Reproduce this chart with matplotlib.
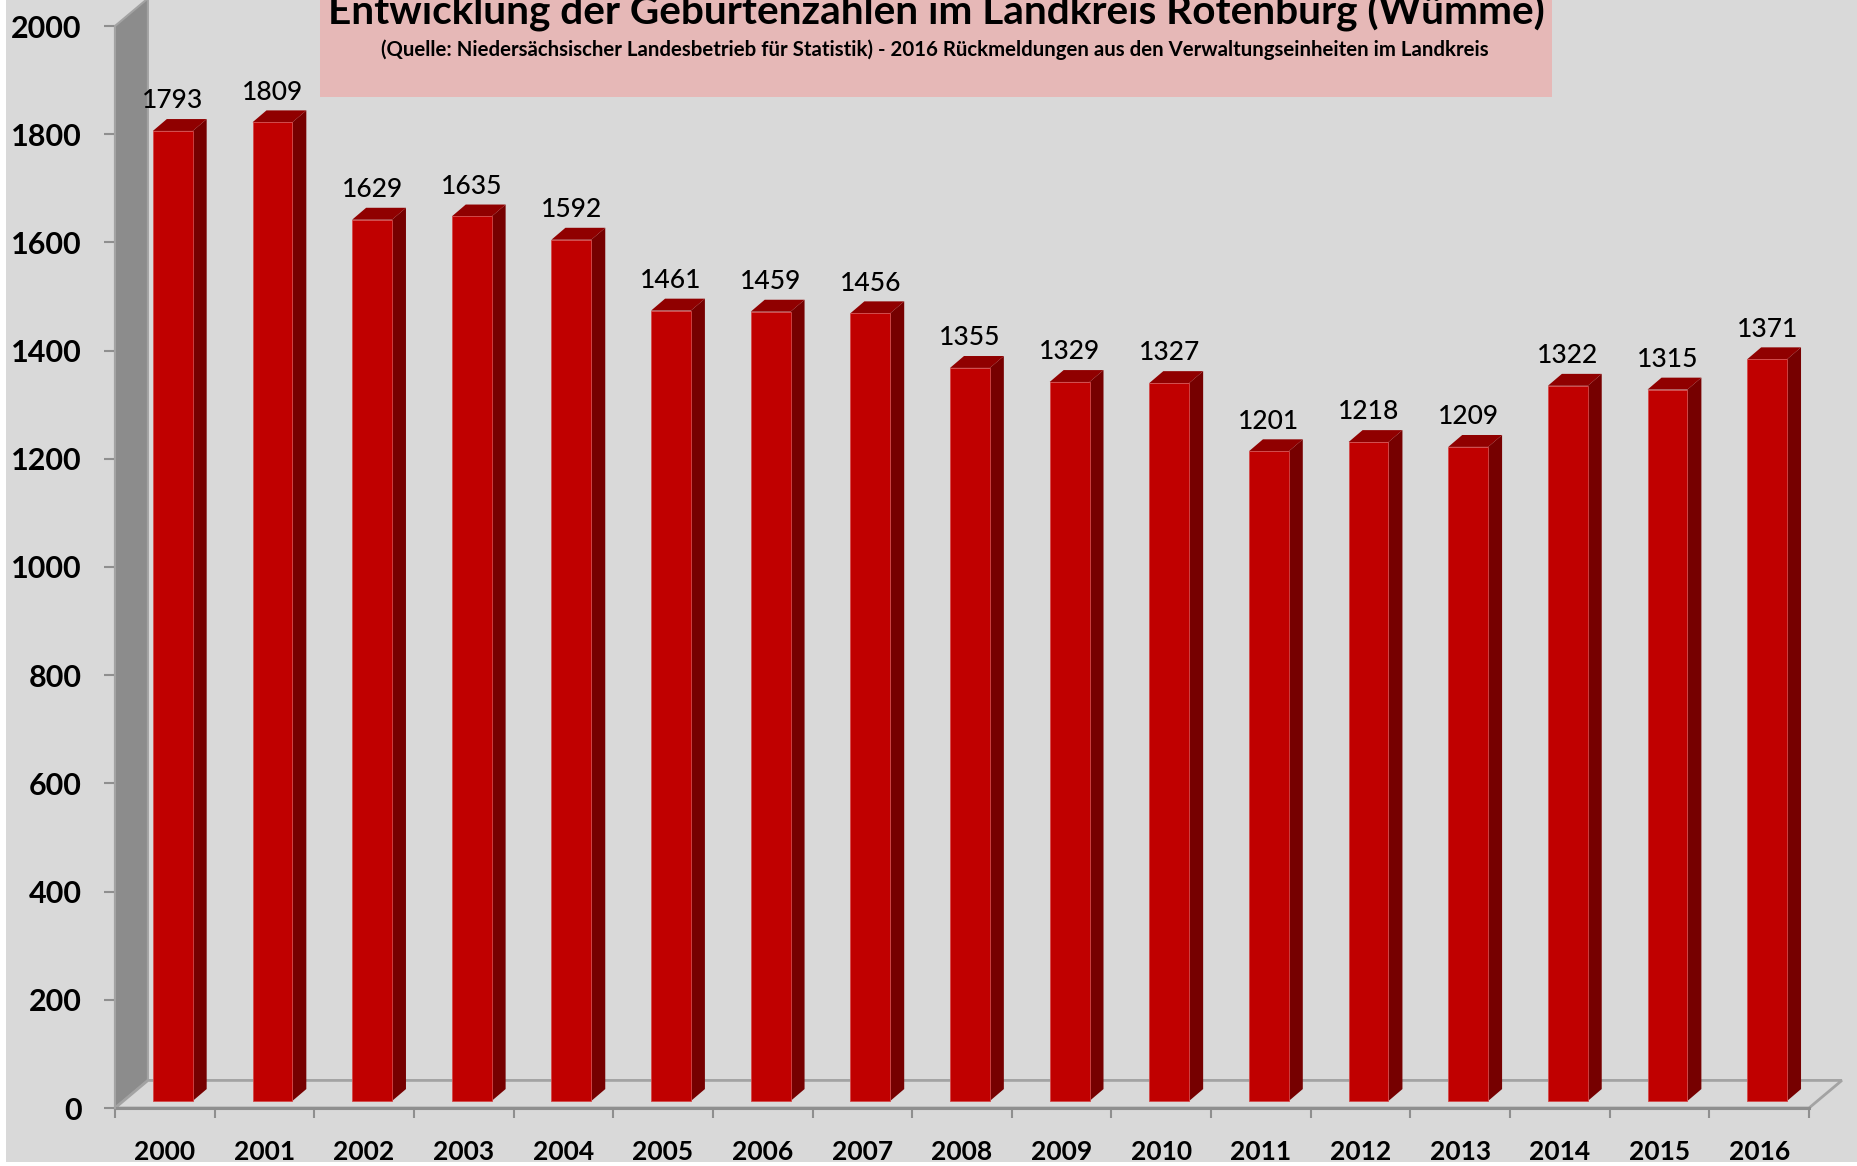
import matplotlib
matplotlib.use("Agg")
import matplotlib.pyplot as plt
from matplotlib.patches import Polygon, Rectangle

plt.rcParams["font.family"] = ["Lato", "DejaVu Sans"]

# ---- data ----
years = [str(y) for y in range(2000, 2017)]
births = [1793, 1809, 1629, 1635, 1592, 1461, 1459, 1456, 1355,
          1329, 1327, 1201, 1218, 1209, 1322, 1315, 1371]
y_ticks = list(range(0, 2001, 200))

TITLE = "Entwicklung der Geburtenzahlen im Landkreis Rotenburg (Wümme)"
SUBTITLE = ("(Quelle: Niedersächsischer Landesbetrieb für Statistik) - "
            "2016 Rückmeldungen aus den Verwaltungseinheiten im Landkreis")

W, H = 1858, 1166
BG = "#d9d9d9"
WALL = "#8c8c8c"
EDGE = "#a3a3a3"
FRONT = "#c00000"
SIDE = "#760000"
TOP = "#900000"

# depth offsets (category units / value units)
FLOOR_DX, FLOOR_DY = 0.33, 51
BAR_SHIFT_X, BAR_SHIFT_Y = 0.08, 13
BAR_W = 0.40
BAR_DX, BAR_DY = 0.14, 22

fig = plt.figure(figsize=(W / 100, H / 100), dpi=100)
fig.patch.set_facecolor("white")
fig.patches.append(Rectangle((6 / W, 4 / H), 1 - 6 / W, 1 - 4 / H,
                             transform=fig.transFigure, facecolor=BG,
                             edgecolor="none", zorder=-2))
# title box
fig.patches.append(Rectangle((320 / W, 1 - 97 / H), (1552 - 320) / W, 97 / H,
                             transform=fig.transFigure, facecolor="#e6b8b7",
                             edgecolor="none", zorder=-1))

left, right, bottom, top = 115, 1809, H - 1108, H - 26
ax = fig.add_axes([left / W, bottom / H, (right - left) / W, (top - bottom) / H])
ax.set_facecolor("none")
ax.patch.set_visible(False)
n = len(years)
ax.set_xlim(-0.5, n - 0.5)
ax.set_ylim(0, 2000)
for s in ax.spines.values():
    s.set_visible(False)

# left wall
x0, x1 = -0.5, n - 0.5
ax.add_patch(Polygon([(x0, 0), (x0, 2000), (x0 + FLOOR_DX, 2000 + FLOOR_DY),
                      (x0 + FLOOR_DX, FLOOR_DY)], closed=True,
                     facecolor=WALL, edgecolor=EDGE, lw=1.5, clip_on=False, zorder=1))
# floor
ax.add_patch(Polygon([(x0, 0), (x1, 0), (x1 + FLOOR_DX, FLOOR_DY),
                      (x0 + FLOOR_DX, FLOOR_DY)], closed=True,
                     facecolor=BG, edgecolor=EDGE, lw=2, clip_on=False, zorder=1))
ax.plot([x0, x1], [0, 0], color="#8f8f8f", lw=2.2, clip_on=False, zorder=2)
ax.plot([x0, x0], [0, 2000], color=EDGE, lw=1.5, clip_on=False, zorder=2)

# bars
for i, v in enumerate(births):
    bx0 = i + BAR_SHIFT_X - BAR_W / 2
    bx1 = bx0 + BAR_W
    by0 = BAR_SHIFT_Y
    by1 = v + BAR_SHIFT_Y
    ax.add_patch(Polygon([(bx1, by0), (bx1 + BAR_DX, by0 + BAR_DY),
                          (bx1 + BAR_DX, by1 + BAR_DY), (bx1, by1)],
                         closed=True, facecolor=SIDE, edgecolor="none",
                         clip_on=False, zorder=3))
    ax.add_patch(Polygon([(bx0, by1), (bx1, by1), (bx1 + BAR_DX, by1 + BAR_DY),
                          (bx0 + BAR_DX, by1 + BAR_DY)], closed=True,
                         facecolor=TOP, edgecolor="none", clip_on=False, zorder=3))
    ax.add_patch(Rectangle((bx0, by0), BAR_W, v, facecolor=FRONT,
                           edgecolor="#d44a4a", lw=0.6, clip_on=False, zorder=4))
    ax.text(i + BAR_SHIFT_X, by1 + BAR_DY + 20, str(v), ha="center",
            va="baseline", fontsize=19, fontweight="medium", color="black",
            zorder=5)

# ticks
ax.set_yticks(y_ticks)
ax.set_yticklabels([str(t) for t in y_ticks], fontsize=22, fontweight="bold")
ax.tick_params(axis="y", length=8, width=1.5, color="#8f8f8f", pad=16)
ax.set_xticks([i - 0.5 for i in range(n + 1)], minor=False)
ax.set_xticklabels([""] * (n + 1))
ax.tick_params(axis="x", length=7, width=1.5, color="#8f8f8f", direction="out")
for i, yr in enumerate(years):
    ax.text(i, -97, yr, ha="center", va="baseline", fontsize=19,
            fontweight="bold", clip_on=False)

renderer = fig.canvas.get_renderer()


def fit_text(x, y, s, width_px, size, **kw):
    t = fig.text(x / W, 1 - y / H, s, ha="center", va="baseline",
                 fontsize=size, **kw)
    w = t.get_window_extent(renderer).width
    t.set_fontsize(size * width_px / w)
    return t


fit_text(936, 25, TITLE, 1216, 30, fontweight="bold")
fit_text(935, 56, SUBTITLE, 1104, 13, fontweight="bold")

fig.savefig("out.png", dpi=100)
